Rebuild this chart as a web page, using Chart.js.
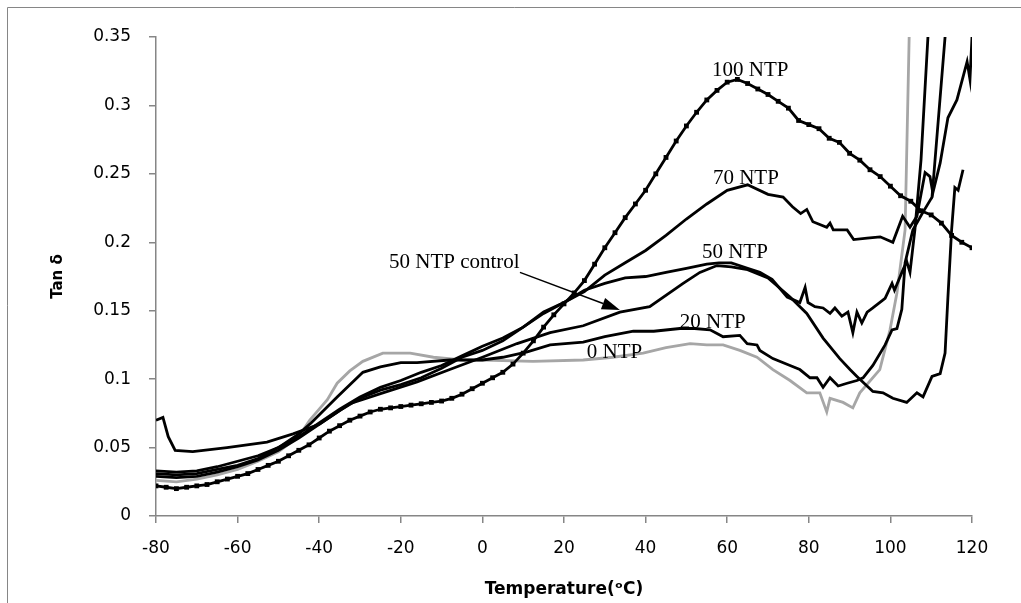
<!DOCTYPE html>
<html lang="en">
<head>
  <meta charset="UTF-8" />
  <title>Tan delta vs Temperature</title>
  <script src="https://cdn.jsdelivr.net/npm/chart.js"></script>
  <style>
    body {
      background: #fff;
      margin: 0;
      padding: 0;
    }
    #wrap {
      width: 1021px;
      height: 603px;
    }
  </style>
</head>
<body>
  <div id="wrap">
    <canvas id="tanChart" width="1021" height="603"></canvas>
  </div>

  <script>
    // axis ticks
    const xTicks = [-80, -60, -40, -20, 0, 20, 40, 60, 80, 100, 120];
    const yTicks = [0, 0.05, 0.1, 0.15, 0.2, 0.25, 0.3, 0.35];

    // 100 NTP (square markers)
    const t100 = [-80,-77.5,-75,-72.5,-70,-67.5,-65,-62.5,-60,-57.5,-55,-52.5,-50,-47.5,-45,-42.5,-40,-37.5,-35,-32.5,-30,-27.5,-25,-22.5,-20,-17.5,-15,-12.5,-10,-7.5,-5,-2.5,0,2.5,5,7.5,10,12.5,15,17.5,20,22.5,25,27.5,30,32.5,35,37.5,40,42.5,45,47.5,50,52.5,55,57.5,60,62.5,65,67.5,70,72.5,75,77.5,80,82.5,85,87.5,90,92.5,95,97.5,100,102.5,105,107.5,110,112.5,115,117.5,120];
    const v100 = [0.022,0.021,0.020,0.021,0.022,0.023,0.025,0.027,0.029,0.031,0.034,0.037,0.040,0.044,0.048,0.052,0.057,0.062,0.066,0.070,0.073,0.076,0.078,0.079,0.080,0.081,0.082,0.083,0.084,0.086,0.089,0.093,0.097,0.101,0.105,0.111,0.119,0.128,0.138,0.147,0.155,0.163,0.172,0.184,0.196,0.207,0.218,0.228,0.238,0.250,0.262,0.274,0.285,0.295,0.304,0.311,0.317,0.319,0.316,0.312,0.308,0.303,0.298,0.289,0.286,0.283,0.276,0.273,0.265,0.260,0.253,0.248,0.241,0.234,0.230,0.223,0.220,0.214,0.205,0.200,0.196];

    // 70 NTP
    const t70 = [-80,-75,-70,-65,-60,-55,-50,-45,-40,-35,-30,-25,-20,-15,-10,-5,0,5,10,15,20,25,30,35,40,45,50,55,60,65,70,73.7,76,78,79.5,81,84.4,85.2,86,89.4,91,94.3,97.5,100.6,103,104.8,106.5,108.5,109.7,110.4,112.2,114.1,116.3,118.8,119.5,120];
    const v70 = [0.033,0.032,0.033,0.036,0.040,0.044,0.050,0.058,0.068,0.078,0.087,0.094,0.099,0.105,0.110,0.117,0.124,0.130,0.138,0.148,0.156,0.164,0.176,0.185,0.194,0.205,0.217,0.228,0.238,0.242,0.235,0.233,0.226,0.221,0.224,0.215,0.211,0.214,0.209,0.209,0.202,0.203,0.204,0.200,0.219,0.211,0.219,0.251,0.248,0.236,0.258,0.291,0.304,0.332,0.319,0.35];

    // 50 NTP
    const t50 = [-80,-75,-70,-65,-60,-55,-50,-45,-40,-35,-30,-25,-20,-15,-10,-5,0,5,10,15,20,25,30,35,40,45,50,55,58,61,65,68,71,74.7,77.8,79.1,79.8,81.5,83.5,85.2,86.4,88.1,89.6,90.8,91.8,93,94.3,95.7,98.7,100.4,101,103.1,104,104.8,106,107.5,109.2];
    const v50 = [0.029,0.028,0.029,0.032,0.036,0.041,0.048,0.057,0.067,0.077,0.086,0.092,0.096,0.101,0.108,0.116,0.121,0.128,0.138,0.149,0.156,0.165,0.170,0.174,0.175,0.178,0.181,0.184,0.185,0.185,0.181,0.178,0.173,0.160,0.156,0.167,0.156,0.153,0.152,0.148,0.152,0.146,0.149,0.134,0.149,0.141,0.149,0.152,0.159,0.170,0.165,0.180,0.186,0.178,0.209,0.260,0.35];

    // 50 NTP control
    const tCtl = [-80,-78.3,-77,-75.3,-71,-62.6,-52.8,-46.4,-40,-35,-32.5,-24.4,-16,-8,0,8.5,16.6,24.7,33.7,41,49.2,53.3,57.5,61,65,70,75.4,79.5,83.5,87.6,90.1,91.8,95.7,98.2,100.6,104,106.5,108,110.2,112.2,113.4,114.1,115,115.8,116.6,117.8];
    const vCtl = [0.070,0.072,0.058,0.048,0.047,0.050,0.054,0.060,0.067,0.077,0.082,0.090,0.098,0.107,0.116,0.126,0.134,0.139,0.149,0.153,0.170,0.178,0.183,0.182,0.180,0.174,0.160,0.148,0.130,0.115,0.107,0.102,0.091,0.090,0.086,0.083,0.090,0.087,0.102,0.104,0.119,0.160,0.209,0.240,0.238,0.253];

    // 20 NTP
    const t20 = [-80,-75,-70,-65,-60,-55,-50,-45,-42,-35.6,-29.3,-25,-20,-16,-8,0,5,11,16.6,24.7,30,37,42,48.4,52,55.8,59,63.1,64.9,67.3,68,71.2,75.4,77.8,80.3,82,83.5,85.2,87.2,89.4,91.8,93.3,95.7,98.7,100.4,101.6,102.8,103.6,105.5,108,110.2,113.4];
    const v20 = [0.031,0.030,0.031,0.034,0.037,0.042,0.050,0.060,0.068,0.087,0.105,0.109,0.112,0.112,0.114,0.114,0.116,0.120,0.125,0.127,0.131,0.135,0.135,0.137,0.137,0.136,0.131,0.132,0.126,0.125,0.121,0.115,0.110,0.107,0.101,0.101,0.094,0.101,0.095,0.097,0.099,0.101,0.110,0.125,0.136,0.137,0.151,0.185,0.209,0.222,0.233,0.35];

    // 0 NTP (grey)
    const t0 = [-80,-75,-70,-65,-60,-55,-50,-45,-42.3,-38,-35.6,-32.5,-29.3,-24.4,-17.7,-12,-5,0,12.4,24.7,32,39.4,45,50.9,55,59,63.1,67.3,71.2,75.4,79.5,82.7,84.4,85.2,88.4,90.8,92.5,97.4,99.9,101.6,103.6,104.6];
    const v0 = [0.026,0.025,0.027,0.030,0.034,0.040,0.047,0.058,0.070,0.085,0.097,0.106,0.113,0.119,0.119,0.116,0.114,0.114,0.113,0.114,0.116,0.119,0.123,0.126,0.125,0.125,0.121,0.116,0.107,0.099,0.090,0.090,0.076,0.086,0.083,0.079,0.090,0.107,0.136,0.163,0.209,0.35];

    // curve labels: text, temperature at left edge, tan delta at baseline
    const labelText = ['100 NTP', '70 NTP', '50 NTP', '50 NTP control', '20 NTP', '0 NTP'];
    const labelT = [56.3, 56.5, 53.8, -22.9, 48.4, 25.6];
    const labelV = [0.3216, 0.2427, 0.1886, 0.1813, 0.1374, 0.1155];

    // arrow for the control label (from, to)
    const arrowT = [9.2, 33.7];
    const arrowV = [0.178, 0.1506];

    function pts(ts, vs) {
      return ts.map((t, i) => ({ x: t, y: vs[i] }));
    }

    const frame = {
      id: 'frame',
      beforeDraw(chart) {
        const c = chart.ctx;
        c.save();
        c.strokeStyle = '#868686';
        c.lineWidth = 1;
        c.beginPath();
        c.moveTo(7.5, chart.height);
        c.lineTo(7.5, 7.5);
        c.lineTo(chart.width, 7.5);
        c.stroke();
        c.restore();
      }
    };

    const curveLabels = {
      id: 'curveLabels',
      afterDatasetsDraw(chart) {
        const c = chart.ctx;
        const xs = chart.scales.x, ys = chart.scales.y;
        c.save();
        c.fillStyle = '#000';
        c.font = '21px "Liberation Serif"';
        c.textAlign = 'left';
        c.textBaseline = 'alphabetic';
        labelText.forEach((txt, i) => {
          c.fillText(txt, xs.getPixelForValue(labelT[i]), ys.getPixelForValue(labelV[i]));
        });
        // arrow
        const x1 = xs.getPixelForValue(arrowT[0]), y1 = ys.getPixelForValue(arrowV[0]);
        const x2 = xs.getPixelForValue(arrowT[1]), y2 = ys.getPixelForValue(arrowV[1]);
        const a = Math.atan2(y2 - y1, x2 - x1);
        const len = 18, half = 6;
        const bx = x2 - len * Math.cos(a), by = y2 - len * Math.sin(a);
        c.strokeStyle = '#000';
        c.lineWidth = 1.5;
        c.beginPath();
        c.moveTo(x1, y1);
        c.lineTo(bx, by);
        c.stroke();
        c.beginPath();
        c.moveTo(x2, y2);
        c.lineTo(bx + half * Math.sin(a), by - half * Math.cos(a));
        c.lineTo(bx - half * Math.sin(a), by + half * Math.cos(a));
        c.closePath();
        c.fill();
        c.restore();
      }
    };

    const black = '#000';
    const grey = '#a6a6a6';

    function line(label, data, color) {
      return {
        label: label,
        data: data,
        borderColor: color,
        backgroundColor: color,
        borderWidth: 2.8,
        pointRadius: 0,
        tension: 0
      };
    }

    const ds100 = line('100 NTP', pts(t100, v100), black);
    ds100.pointStyle = 'rect';
    ds100.pointRadius = 3.4;
    ds100.pointBorderWidth = 0;

    let ctx = document.getElementById('tanChart').getContext('2d');
    new Chart(ctx, {
      type: 'line',
      data: {
        datasets: [
          ds100,
          line('70 NTP', pts(t70, v70), black),
          line('50 NTP', pts(t50, v50), black),
          line('50 NTP control', pts(tCtl, vCtl), black),
          line('20 NTP', pts(t20, v20), black),
          line('0 NTP', pts(t0, v0), grey)
        ]
      },
      options: {
        responsive: false,
        animation: false,
        layout: {
          padding: { left: 0, top: 37, right: 49, bottom: 0 }
        },
        plugins: {
          legend: { display: false },
          tooltip: { enabled: false }
        },
        scales: {
          x: {
            type: 'linear',
            min: -80,
            max: 120,
            afterBuildTicks: s => { s.ticks = xTicks.map(v => ({ value: v })); },
            afterFit: s => { s.height = 87; },
            grid: {
              drawOnChartArea: false,
              drawTicks: true,
              tickLength: 7,
              color: '#868686',
              lineWidth: 1.5
            },
            border: { color: '#868686', width: 1.5 },
            ticks: {
              color: '#000',
              padding: 15,
              font: { family: 'DejaVu Sans', size: 17 }
            },
            title: {
              display: true,
              text: 'Temperature(ᵒC)',
              color: '#000',
              padding: { top: 0, bottom: 3 },
              font: { family: 'DejaVu Sans', size: 17, weight: 'bold' }
            }
          },
          y: {
            min: 0,
            max: 0.35,
            afterBuildTicks: s => { s.ticks = yTicks.map(v => ({ value: v })); },
            afterFit: s => { s.width = 156; },
            grid: {
              drawOnChartArea: false,
              drawTicks: true,
              tickLength: 7,
              color: '#868686',
              lineWidth: 1.5
            },
            border: { color: '#868686', width: 1.5 },
            ticks: {
              color: '#000',
              padding: 18,
              font: { family: 'DejaVu Sans', size: 17 },
              callback: v => String(+v.toFixed(2))
            },
            title: {
              display: true,
              text: 'Tan δ',
              color: '#000',
              padding: { top: 49, bottom: 0 },
              font: { family: 'DejaVu Sans', size: 15, weight: 'bold' }
            }
          }
        }
      },
      plugins: [frame, curveLabels]
    });
  </script>
</body>
</html>
